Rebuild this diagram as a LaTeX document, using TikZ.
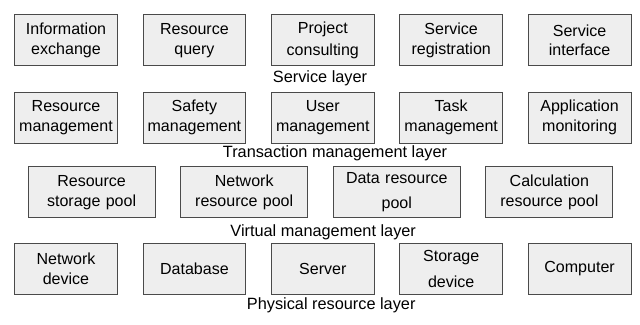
\documentclass[tikz,border=0pt]{standalone}
\usepackage{fontspec}
\setmainfont{Liberation Sans}
\usetikzlibrary{positioning}
\definecolor{boxgray}{HTML}{EEEEEE}
\definecolor{edgegray}{HTML}{4A4A4A}

\begin{document}
\begin{tikzpicture}[
  node distance=0.615cm and 0.615cm,
  box/.style={draw=edgegray,line width=0.7pt,fill=boxgray,minimum height=1.275cm,
              minimum width=2.55cm,text width=2.5cm,align=center,inner sep=1pt,
              font=\fontsize{11.4}{14}\selectfont},
  widebox/.style={box,minimum width=3.175cm,text width=3.05cm},
  layer/.style={font=\fontsize{11.6}{14}\selectfont,inner sep=0pt}
]
\useasboundingbox (0,0) rectangle (16,-8.1);
% service layer
\node[box] at (1.65,-1.01) (info) {Information\\exchange};
\node[box,right=of info] (query) {Resource\\query};
\node[box,right=of query] (consult) {Project\\[2pt]consulting};
\node[box,right=of consult] (reg) {Service\\registration};
\node[box,right=of reg] (iface) {Service\\interface};
\node[layer] at (8.0,-1.95) (servicel) {Service layer};
% transaction management layer
\node[box] at (1.65,-2.94) (resmgmt) {Resource\\management};
\node[box,right=of resmgmt] (safety) {Safety\\management};
\node[box,right=of safety] (user) {User\\management};
\node[box,right=of user] (task) {Task\\management};
\node[box,right=of task] (appmon) {Application\\monitoring};
\node[layer] at (8.375,-3.83) (transl) {Transaction management layer};
% virtual management layer
\node[widebox] at (2.29,-4.81) (storpool) {Resource\\storage pool};
\node[widebox,right=of storpool] (netpool) {Network\\resource pool};
\node[widebox,right=of netpool] (datapool) {Data resource\\[4pt]pool};
\node[widebox,right=of datapool] (calcpool) {Calculation\\resource pool};
\node[layer] at (8.08,-5.8) (virtl) {Virtual management layer};
% physical resource layer
\node[box] at (1.65,-6.725) (netdev) {Network\\device};
\node[box,right=of netdev] (db) {Database};
\node[box,right=of db] (server) {Server};
\node[box,right=of server] (stordev) {Storage\\[5pt]device};
\node[box,right=of stordev] (computer) {Computer};
\node[layer] at (8.28,-7.63) (physl) {Physical resource layer};
\end{tikzpicture}
\end{document}
